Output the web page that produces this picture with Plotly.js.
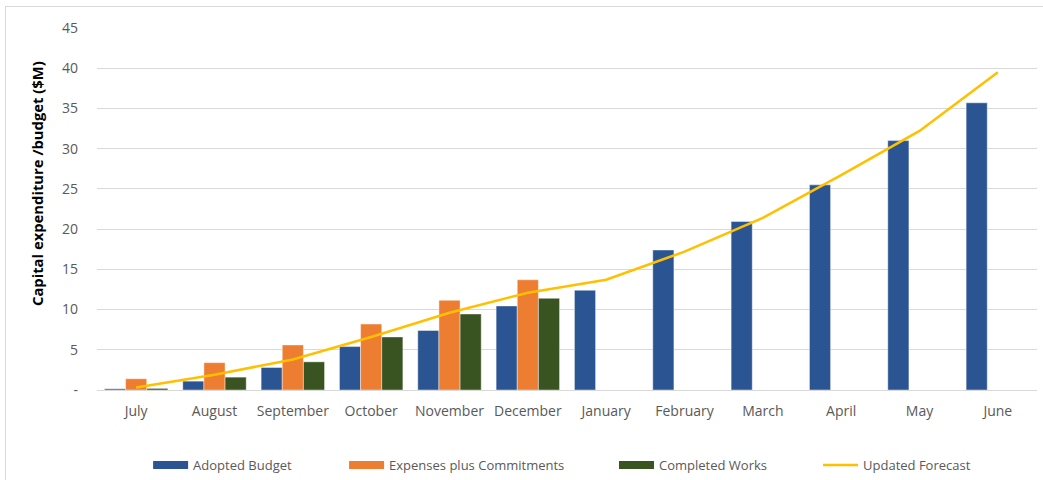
<!DOCTYPE html>
<html>
<head>
<meta charset="utf-8">
<script src="https://cdn.plot.ly/plotly-3.0.1.min.js"></script>
<style>
  html, body { margin: 0; padding: 0; background: #ffffff; }
  #wrap { position: relative; width: 1043px; height: 480px; overflow: hidden; }
  #chart { position: absolute; left: 0; top: 0; width: 1043px; height: 480px; }
  #frame { position: absolute; left: 5px; top: 6px; width: 1045px; height: 480px;
           border: 1px solid #d9d9d9; pointer-events: none; box-sizing: border-box; }
</style>
</head>
<body>
<div id="wrap">
  <div id="chart"></div>
  <div id="frame"></div>
</div>
<script>
const months = ["July", "August", "September", "October", "November", "December",
                "January", "February", "March", "April", "May", "June"];
const adoptedBudget = [0.15, 1.1, 2.8, 5.4, 7.4, 10.45, 12.4, 17.4, 20.95, 25.5, 31.0, 35.7];
const expensesPlusCommitments = [1.4, 3.4, 5.6, 8.2, 11.15, 13.7, null, null, null, null, null, null];
const completedWorks = [0.2, 1.6, 3.5, 6.6, 9.45, 11.4, null, null, null, null, null, null];
const updatedForecast = [0.3, 1.9, 3.8, 6.6, 9.6, 12.1, 13.7, 17.2, 21.4, 26.7, 32.2, 39.5];
const yTickVals = [0, 5, 10, 15, 20, 25, 30, 35, 40, 45];
const yTickText = ["-", "5", "10", "15", "20", "25", "30", "35", "40", "45"];
const yAxisTitle = "Capital expenditure /budget ($M)";

const seriesNames = ["Adopted Budget", "Expenses plus Commitments", "Completed Works", "Updated Forecast"];
const seriesColors = ["#2B5592", "#ED7D31", "#3A5421", "#FFC000"];

const FONT = "'Open Sans', 'Noto Sans', sans-serif";
const barLine = { color: "rgba(255,255,255,0.55)", width: 0.8 };
const barValues = [adoptedBudget, expensesPlusCommitments, completedWorks];
const legendIds = ["legend", "legend2", "legend3", "legend4"];
const legendX = [0.1420, 0.3299, 0.5887, 0.7843];

const traces = [];
barValues.forEach((vals, i) => {
  traces.push({ type: "bar", name: seriesNames[i], x: months, y: vals,
    legendgroup: "g" + i, showlegend: false,
    marker: { color: seriesColors[i], line: barLine } });
});
traces.push({ type: "scatter", mode: "lines", name: seriesNames[3], x: months, y: updatedForecast,
  legendgroup: "g3", showlegend: false,
  line: { color: seriesColors[3], width: 2.6 } });
// legend entries (wide rectangular swatches, as in the original)
seriesNames.forEach((nm, i) => {
  traces.push({ type: "scatter", mode: "lines", name: nm, x: [null], y: [null],
    legendgroup: "g" + i, showlegend: true, legend: legendIds[i], hoverinfo: "skip",
    line: { color: seriesColors[i], width: i < 3 ? 8 : 2.6 } });
});

const layout = {
  width: 1043, height: 480,
  margin: { l: 97, r: 6, t: 28, b: 90 },
  paper_bgcolor: "#ffffff", plot_bgcolor: "#ffffff",
  font: { family: FONT, size: 14, color: "#595959" },
  barmode: "group", bargap: 0.19, bargroupgap: 0,
  showlegend: true,
  xaxis: {
    type: "category", showgrid: false, zeroline: false,
    showline: true, linecolor: "#d9d9d9", linewidth: 1,
    ticks: "", ticklabelstandoff: 8,
    tickfont: { family: FONT, size: 14, color: "#595959" }
  },
  yaxis: {
    range: [0, 45], tickvals: yTickVals, ticktext: yTickText,
    showgrid: true, gridcolor: "#d9d9d9", gridwidth: 1.2,
    zeroline: false, showline: false, ticks: "",
    ticklabelstandoff: 18,
    tickfont: { family: FONT, size: 14, color: "#595959" },
    automargin: false
  },
  annotations: [{
    text: yAxisTitle, xref: "paper", yref: "paper",
    x: -0.0638, y: 0.569, xanchor: "center", yanchor: "middle",
    textangle: -90, showarrow: false,
    font: { family: FONT, size: 14.8, color: "#000000", weight: "bold" }
  }]
};
legendIds.forEach((id, i) => {
  layout[id] = {
    orientation: "h", xref: "container", yref: "container",
    x: legendX[i], xanchor: "left", y: 0.03125, yanchor: "middle",
    font: { family: FONT, size: 13, color: "#595959" },
    itemwidth: 35, bgcolor: "rgba(0,0,0,0)"
  };
});

Plotly.newPlot("chart", traces, layout, { displayModeBar: false, staticPlot: true });
</script>
</body>
</html>
